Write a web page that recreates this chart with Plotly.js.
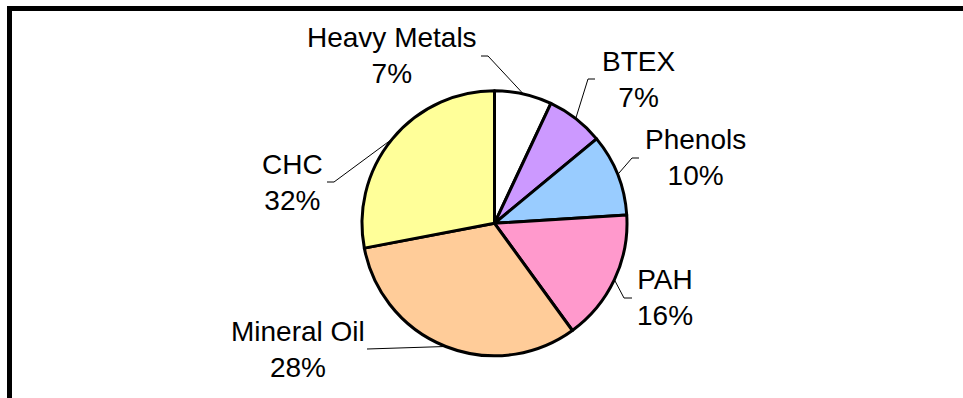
<!DOCTYPE html>
<html>
<head>
<meta charset="utf-8">
<script src="https://cdn.plot.ly/plotly-3.0.1.min.js"></script>
<style>
  html, body { margin: 0; padding: 0; background: #ffffff; }
  #chart { width: 963px; height: 398px; }
</style>
</head>
<body>
<div id="chart"></div>
<script>
// ---- data ----
const categories = ['Heavy Metals', 'BTEX', 'Phenols', 'PAH', 'Mineral Oil', 'CHC'];
const sliceShares = [7, 7, 10, 16, 32, 28];            // slice sizes as drawn
const labelPercents = ['7%', '7%', '10%', '16%', '28%', '32%']; // percentages as printed
const sliceColors = ['#FFFFFF', '#CC99FF', '#99CCFF', '#FF99CC', '#FFCC99', '#FFFF99'];

// ---- layout constants ----
const W = 963, H = 398;
const CX = 494.5, CY = 223.3, R = 132.5;   // pie centre / radius in px
// label centres (px) and leader start/elbow points (px)
const labelPos = [
  {x: 392, y: 55.5, lead: [[481, 56], [488, 56]]},
  {x: 638, y: 79.4, lead: [[595, 79], [588, 79]]},
  {x: 695, y: 157.5, lead: [[639, 158], [632, 158]]},
  {x: 665, y: 297.5, lead: [[632, 298], [624, 298]]},
  {x: 298, y: 349.5, lead: [[367, 349]]},
  {x: 292, y: 182.5, lead: [[327, 182], [334, 182]]}
];

const px = x => x / W;
const py = y => 1 - y / H;

// mid-angles of slices (clockwise from 12 o'clock)
const total = sliceShares.reduce((a, b) => a + b, 0);
let cum = 0;
const midAngles = sliceShares.map(v => {
  const a = (cum + v / 2) / total * 2 * Math.PI;
  cum += v;
  return a;
});

const shapes = [];
const annotations = [];
categories.forEach((c, i) => {
  const a = midAngles[i];
  const ex = CX + R * Math.sin(a);
  const ey = CY - R * Math.cos(a);
  const pts = labelPos[i].lead.concat([[ex, ey]]);
  let path = 'M ' + px(pts[0][0]) + ' ' + py(pts[0][1]);
  for (let k = 1; k < pts.length; k++) path += ' L ' + px(pts[k][0]) + ' ' + py(pts[k][1]);
  shapes.push({type: 'path', xref: 'paper', yref: 'paper', path: path,
               line: {color: '#000000', width: 1}});
  annotations.push({
    xref: 'paper', yref: 'paper', x: px(labelPos[i].x), y: py(labelPos[i].y),
    xanchor: 'center', yanchor: 'middle', showarrow: false, align: 'center',
    text: c + '<br>' + labelPercents[i],
    font: {family: 'Liberation Sans, Arial, sans-serif', size: 28, color: '#000000'}
  });
});

// chart frame (top and left edges)
shapes.push({type: 'rect', xref: 'paper', yref: 'paper', x0: px(7), x1: px(963), y0: py(11), y1: py(6),
             fillcolor: '#000000', line: {width: 0}});
shapes.push({type: 'rect', xref: 'paper', yref: 'paper', x0: px(7), x1: px(12), y0: py(398), y1: py(6),
             fillcolor: '#000000', line: {width: 0}});

const trace = {
  type: 'pie',
  labels: categories,
  values: sliceShares,
  sort: false,
  direction: 'clockwise',
  rotation: 0,
  textinfo: 'none',
  hoverinfo: 'label+percent',
  showlegend: false,
  marker: {colors: sliceColors, line: {color: '#000000', width: 3}},
  domain: {x: [px(CX - R), px(CX + R)], y: [py(CY + R), py(CY - R)]}
};

const layout = {
  width: W, height: H,
  margin: {l: 0, r: 0, t: 0, b: 0},
  paper_bgcolor: '#ffffff',
  plot_bgcolor: '#ffffff',
  showlegend: false,
  shapes: shapes,
  annotations: annotations,
  font: {family: 'Liberation Sans, Arial, sans-serif', color: '#000000'}
};

Plotly.newPlot('chart', [trace], layout, {displayModeBar: false, staticPlot: true});
</script>
</body>
</html>
